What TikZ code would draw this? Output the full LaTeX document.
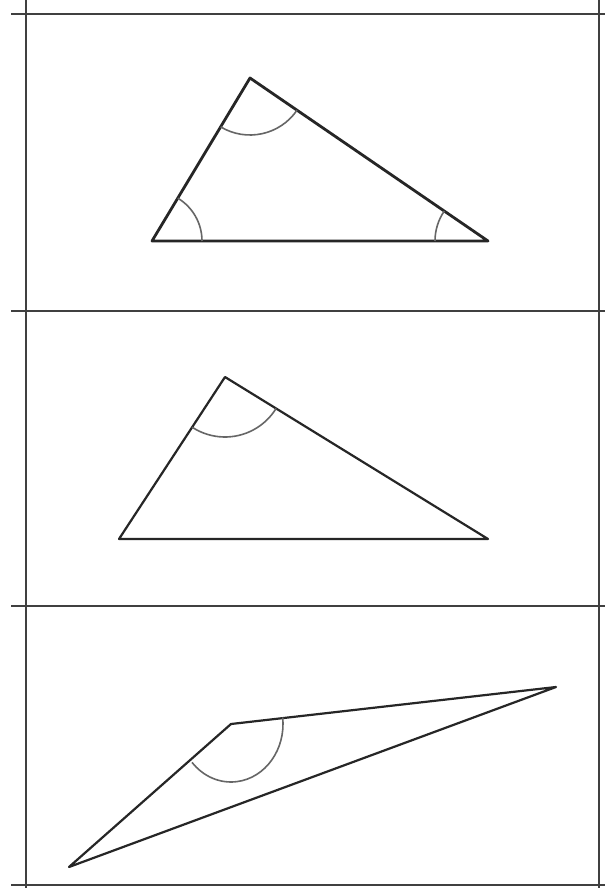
\documentclass[tikz,border=0pt]{standalone}
\begin{document}
\begin{tikzpicture}[x=1pt,y=-1pt,
  frame/.style={draw=black!75,line width=2pt},
  tri/.style={draw=black!85,line width=2.2pt,line join=round},
  trithick/.style={draw=black!85,line width=2.8pt,line join=round},
  angarc/.style={draw=black!60,line width=1.6pt}]
\useasboundingbox (0,0) rectangle (605,888);
\fill[white] (0,0) rectangle (605,888);
% frame
\coordinate (fl0) at (11,14);  \coordinate (fr0) at (605,14);
\coordinate (fl1) at (11,311); \coordinate (fr1) at (605,311);
\coordinate (fl2) at (11,606); \coordinate (fr2) at (605,606);
\coordinate (fl3) at (11,885); \coordinate (fr3) at (605,885);
\coordinate (vlt) at (26,0); \coordinate (vlb) at (26,888);
\coordinate (vrt) at (599,0); \coordinate (vrb) at (599,888);
\draw[frame] (fl0) -- (fr0);
\draw[frame] (fl1) -- (fr1);
\draw[frame] (fl2) -- (fr2);
\draw[frame] (fl3) -- (fr3);
\draw[frame] (vlt) -- (vlb);
\draw[frame] (vrt) -- (vrb);
% panel 1
\coordinate (A1) at (250,78);
\coordinate (B1) at (152,241);
\coordinate (C1) at (488,241);
\draw[trithick] (A1) -- (B1) -- (C1) -- cycle;
\draw[angarc] (A1) ++(34.4:57) arc[start angle=34.4,end angle=121,radius=57];
\draw[angarc] (B1) ++(-59:50) arc[start angle=-59,end angle=0,radius=50];
\draw[angarc] (C1) ++(180:53) arc[start angle=180,end angle=214.4,radius=53];
% panel 2
\coordinate (A2) at (225,377);
\coordinate (B2) at (119,539);
\coordinate (C2) at (488,539);
\draw[tri] (A2) -- (B2) -- (C2) -- cycle;
\draw[angarc] (A2) ++(31.6:60) arc[start angle=31.6,end angle=123.2,radius=60];
% panel 3
\coordinate (A3) at (231,724);
\coordinate (B3) at (69,867);
\coordinate (C3) at (556,687);
\draw[tri] (A3) -- (B3) -- (C3) -- cycle;
\draw[angarc] (A3) ++({52*cos(-6.5)},{58*sin(-6.5)}) arc[start angle=-6.5,end angle=138.6,x radius=52,y radius=58];
\end{tikzpicture}
\end{document}
